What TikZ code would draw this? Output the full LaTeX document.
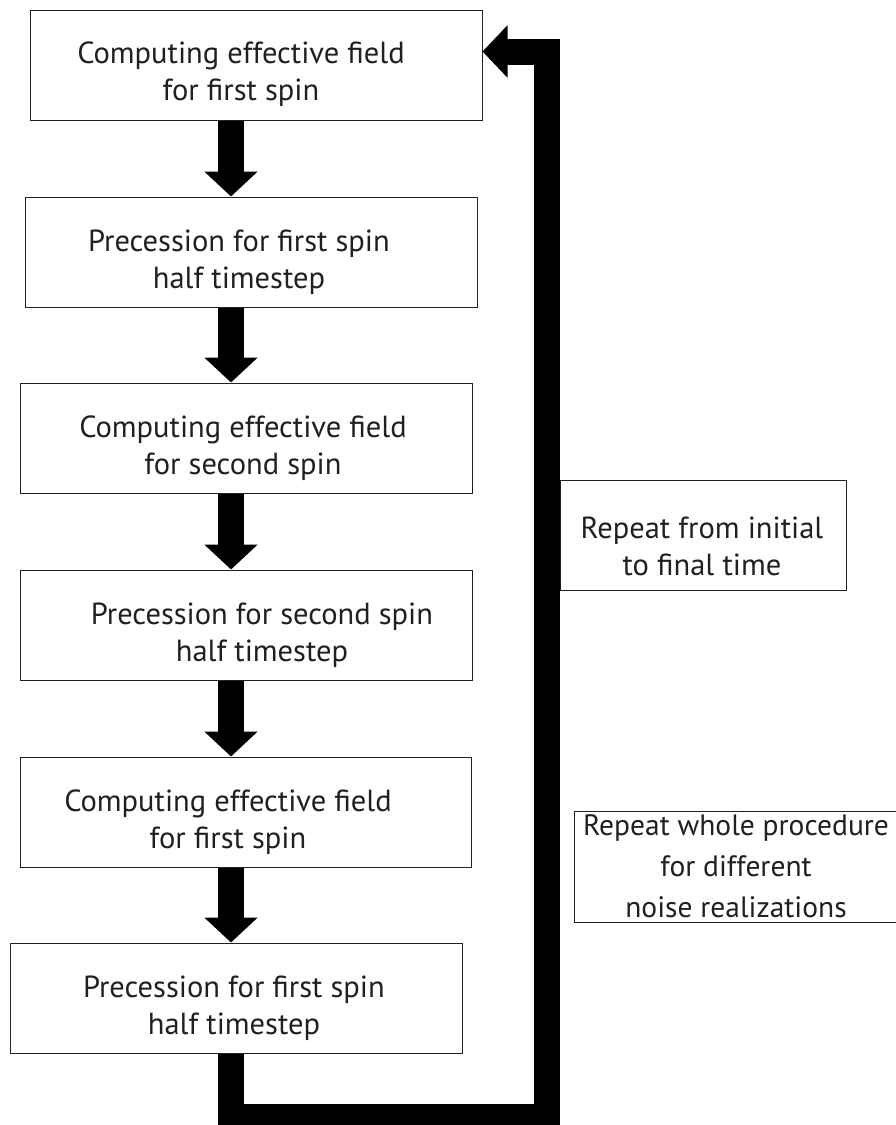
\documentclass[tikz,border=0pt]{standalone}
\usepackage{fontspec}
\setmainfont{PT Sans}
\usetikzlibrary{arrows.meta}
\definecolor{ink}{HTML}{231F20}
\begin{document}
\begin{tikzpicture}[x=1pt,y=-1pt,
    stepbox/.style={draw=ink,line width=1pt,minimum width=452pt,minimum height=110pt,inner sep=0pt},
    sidebox/.style={draw=ink,line width=1pt,minimum height=110pt,inner sep=0pt},
    boxtext/.style={text=ink,align=center,font=\fontsize{30.5}{37}\selectfont},
    flow/.style={line width=26pt,-{Triangle[width=52pt,length=25pt]}},
    loopline/.style={line width=26pt,line join=miter,-{Triangle[width=51pt,length=25pt]}}]
        \useasboundingbox (0,0) rectangle (895,1125);
        % flow boxes
        \node[stepbox] (b1) at (256,65) {};
        \node[stepbox] (b2) at (251,252) {};
        \node[stepbox] (b3) at (246,438) {};
        \node[stepbox] (b4) at (246,625) {};
        \node[stepbox,minimum width=451pt] (b5) at (245.5,812) {};
        \node[stepbox] (b6) at (236,998) {};
        \node[boxtext] (t1) at (241,74) {Computing effective field\\for first spin};
        \node[boxtext] (t2) at (239,262) {Precession for first spin\\half timestep};
        \node[boxtext] (t3) at (243,448) {Computing effective field\\for second spin};
        \node[boxtext] (t4) at (262,635) {Precession for second spin\\half timestep};
        \node[boxtext] (t5) at (228,822) {Computing effective field\\for first spin};
        \node[boxtext] (t6) at (234,1008) {Precession for first spin\\half timestep};
        % side boxes
        \node[sidebox,minimum width=286pt] (r1) at (703,535.5) {};
        \node[boxtext] (rt1) at (702,546) {Repeat from initial\\to final time};
        \node[sidebox,minimum width=340pt,minimum height=111pt] (r2) at (744,866.5) {};
        \node[boxtext,font=\fontsize{29.5}{41}\selectfont] (rt2) at (736,866) {Repeat whole procedure\\for different\\noise realizations};
        % arrows
        \coordinate (sx) at (231,0);
        \draw[flow] (b1.south -| sx) -- (b2.north -| sx);
        \draw[flow] (b2.south -| sx) -- (b3.north -| sx);
        \draw[flow] (b3.south -| sx) -- (b4.north -| sx);
        \draw[flow] (b4.south -| sx) -- (b5.north -| sx);
        \draw[flow] (b5.south -| sx) -- (b6.north -| sx);
        % loop back
        \coordinate (lb) at (231,1117);
        \coordinate (rb) at (547,1117);
        \coordinate (rt) at (547,51.5);
        \draw[loopline] (b6.south -| lb) -- (lb) -- (rb) -- (rt) -- (b1.east |- rt);
\end{tikzpicture}
\end{document}
